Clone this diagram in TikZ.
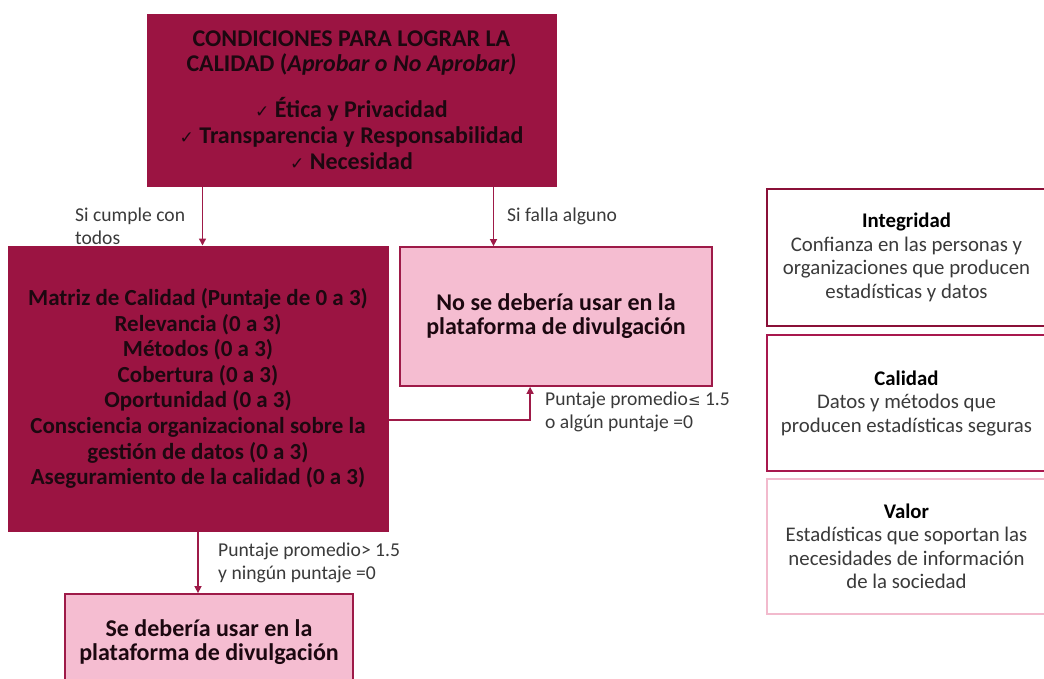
\documentclass[tikz,border=0pt]{standalone}
\usepackage{fontspec}
\setmainfont{Carlito}
\newfontfamily\djv{DejaVu Sans}
\usetikzlibrary{arrows.meta}
\definecolor{crim}{HTML}{9B1442}
\definecolor{crimline}{HTML}{9E1A48}
\definecolor{pinkfill}{HTML}{F5BDD1}
\definecolor{darktext}{HTML}{1C0810}
\definecolor{labeltext}{HTML}{3A3A3A}
\definecolor{integ}{HTML}{8A1038}
\definecolor{calid}{HTML}{A8184E}
\definecolor{valor}{HTML}{F2BACD}
\tikzset{
  darkbox/.style={draw=crim, fill=crim, line width=1pt, text=darktext, align=center, inner sep=0pt},
  pinkbox/.style={draw=crimline, fill=pinkfill, line width=1.8pt, text=darktext, align=center, inner sep=0pt,
    font=\fontsize{24}{24}\selectfont\bfseries},
  infobox/.style={fill=white, line width=1.8pt, text=labeltext, align=center, inner sep=0pt,
    font=\fontsize{20.8}{23.5}\selectfont},
  lbl/.style={text=labeltext, align=left, inner sep=0pt, anchor=north west,
    font=\fontsize{19.6}{23}\selectfont},
  arr/.style={draw=crimline, line width=1.5pt, -{Triangle[length=7pt,width=7pt]}},
}
\newcommand{\chk}{{\djv\fontsize{17}{17}\selectfont\mdseries ✓}\ }
\begin{document}
\begin{tikzpicture}[x=1pt,y=-1pt]
\clip (0,0) rectangle (1044,678);
\fill[white] (0,0) rectangle (1044,678);

\node[darkbox, minimum width=409pt, minimum height=172pt,
  font=\fontsize{24}{24.5}\selectfont\bfseries] (top) at (351.5,100)
  {CONDICIONES PARA LOGRAR LA\\ CALIDAD (\textit{Aprobar o No Aprobar)}\\[21.5pt]
   \chk Ética y Privacidad\\[1.5pt] \chk Transparencia y Responsabilidad\\[1.5pt] \chk Necesidad};

\node[darkbox, minimum width=380pt, minimum height=285pt,
  font=\fontsize{23}{25.6}\selectfont\bfseries] (mat) at (198,388.5)
  {Matriz de Calidad (Puntaje de 0 a 3)\\ Relevancia (0 a 3)\\ Métodos (0 a 3)\\ Cobertura (0 a 3)\\
   Oportunidad (0 a 3)\\ Consciencia organizacional sobre la\\ gestión de datos (0 a 3)\\
   Aseguramiento de la calidad (0 a 3)};

\node[pinkbox, minimum width=312pt, minimum height=139pt] (no) at (556,316.5)
  {No se debería usar en la\\ plataforma de divulgación};

\node[pinkbox, minimum width=288pt, minimum height=96pt] (se) at (209,642)
  {Se debería usar en la\\ plataforma de divulgación};

\node[infobox, draw=integ, minimum width=279pt, minimum height=137pt] (int) at (906.5,257.5)
  {\textbf{\color{black}Integridad}\\ Confianza en las personas y\\ organizaciones que producen\\ estadísticas y datos};
\node[infobox, draw=calid, minimum width=279pt, minimum height=136pt] (cal) at (906.5,403)
  {\textbf{\color{black}Calidad}\\ Datos y métodos que\\ producen estadísticas seguras};
\node[infobox, draw=valor, minimum width=279pt, minimum height=135pt] (val) at (906.5,546.5)
  {\textbf{\color{black}Valor}\\ Estadísticas que soportan las\\ necesidades de información\\ de la sociedad};

\draw[arr] ([xshift=56pt]top.south west) -- ([xshift=56pt]top.south west |- mat.north);
\draw[arr] ([xshift=347pt]top.south west) -- ([xshift=347pt]top.south west |- no.north);
\coordinate (bend) at ([xshift=131pt]no.south west);
\draw[arr] ([yshift=-31.5pt]mat.east) -| (bend);
\draw[arr] (mat.south) -- (mat.south |- se.north);

\node[lbl] (l1) at (75,207.5) {Si cumple con\\todos};
\node[lbl] (l2) at (507,207.5) {Si falla alguno};
\node[lbl] (l3) at (545,392) {Puntaje promedio{\djv\fontsize{15}{15}\selectfont ≤} 1.5\\o algún puntaje =0};
\node[lbl] (l4) at (218,542.5) {Puntaje promedio> 1.5\\y ningún puntaje =0};
\end{tikzpicture}
\end{document}
